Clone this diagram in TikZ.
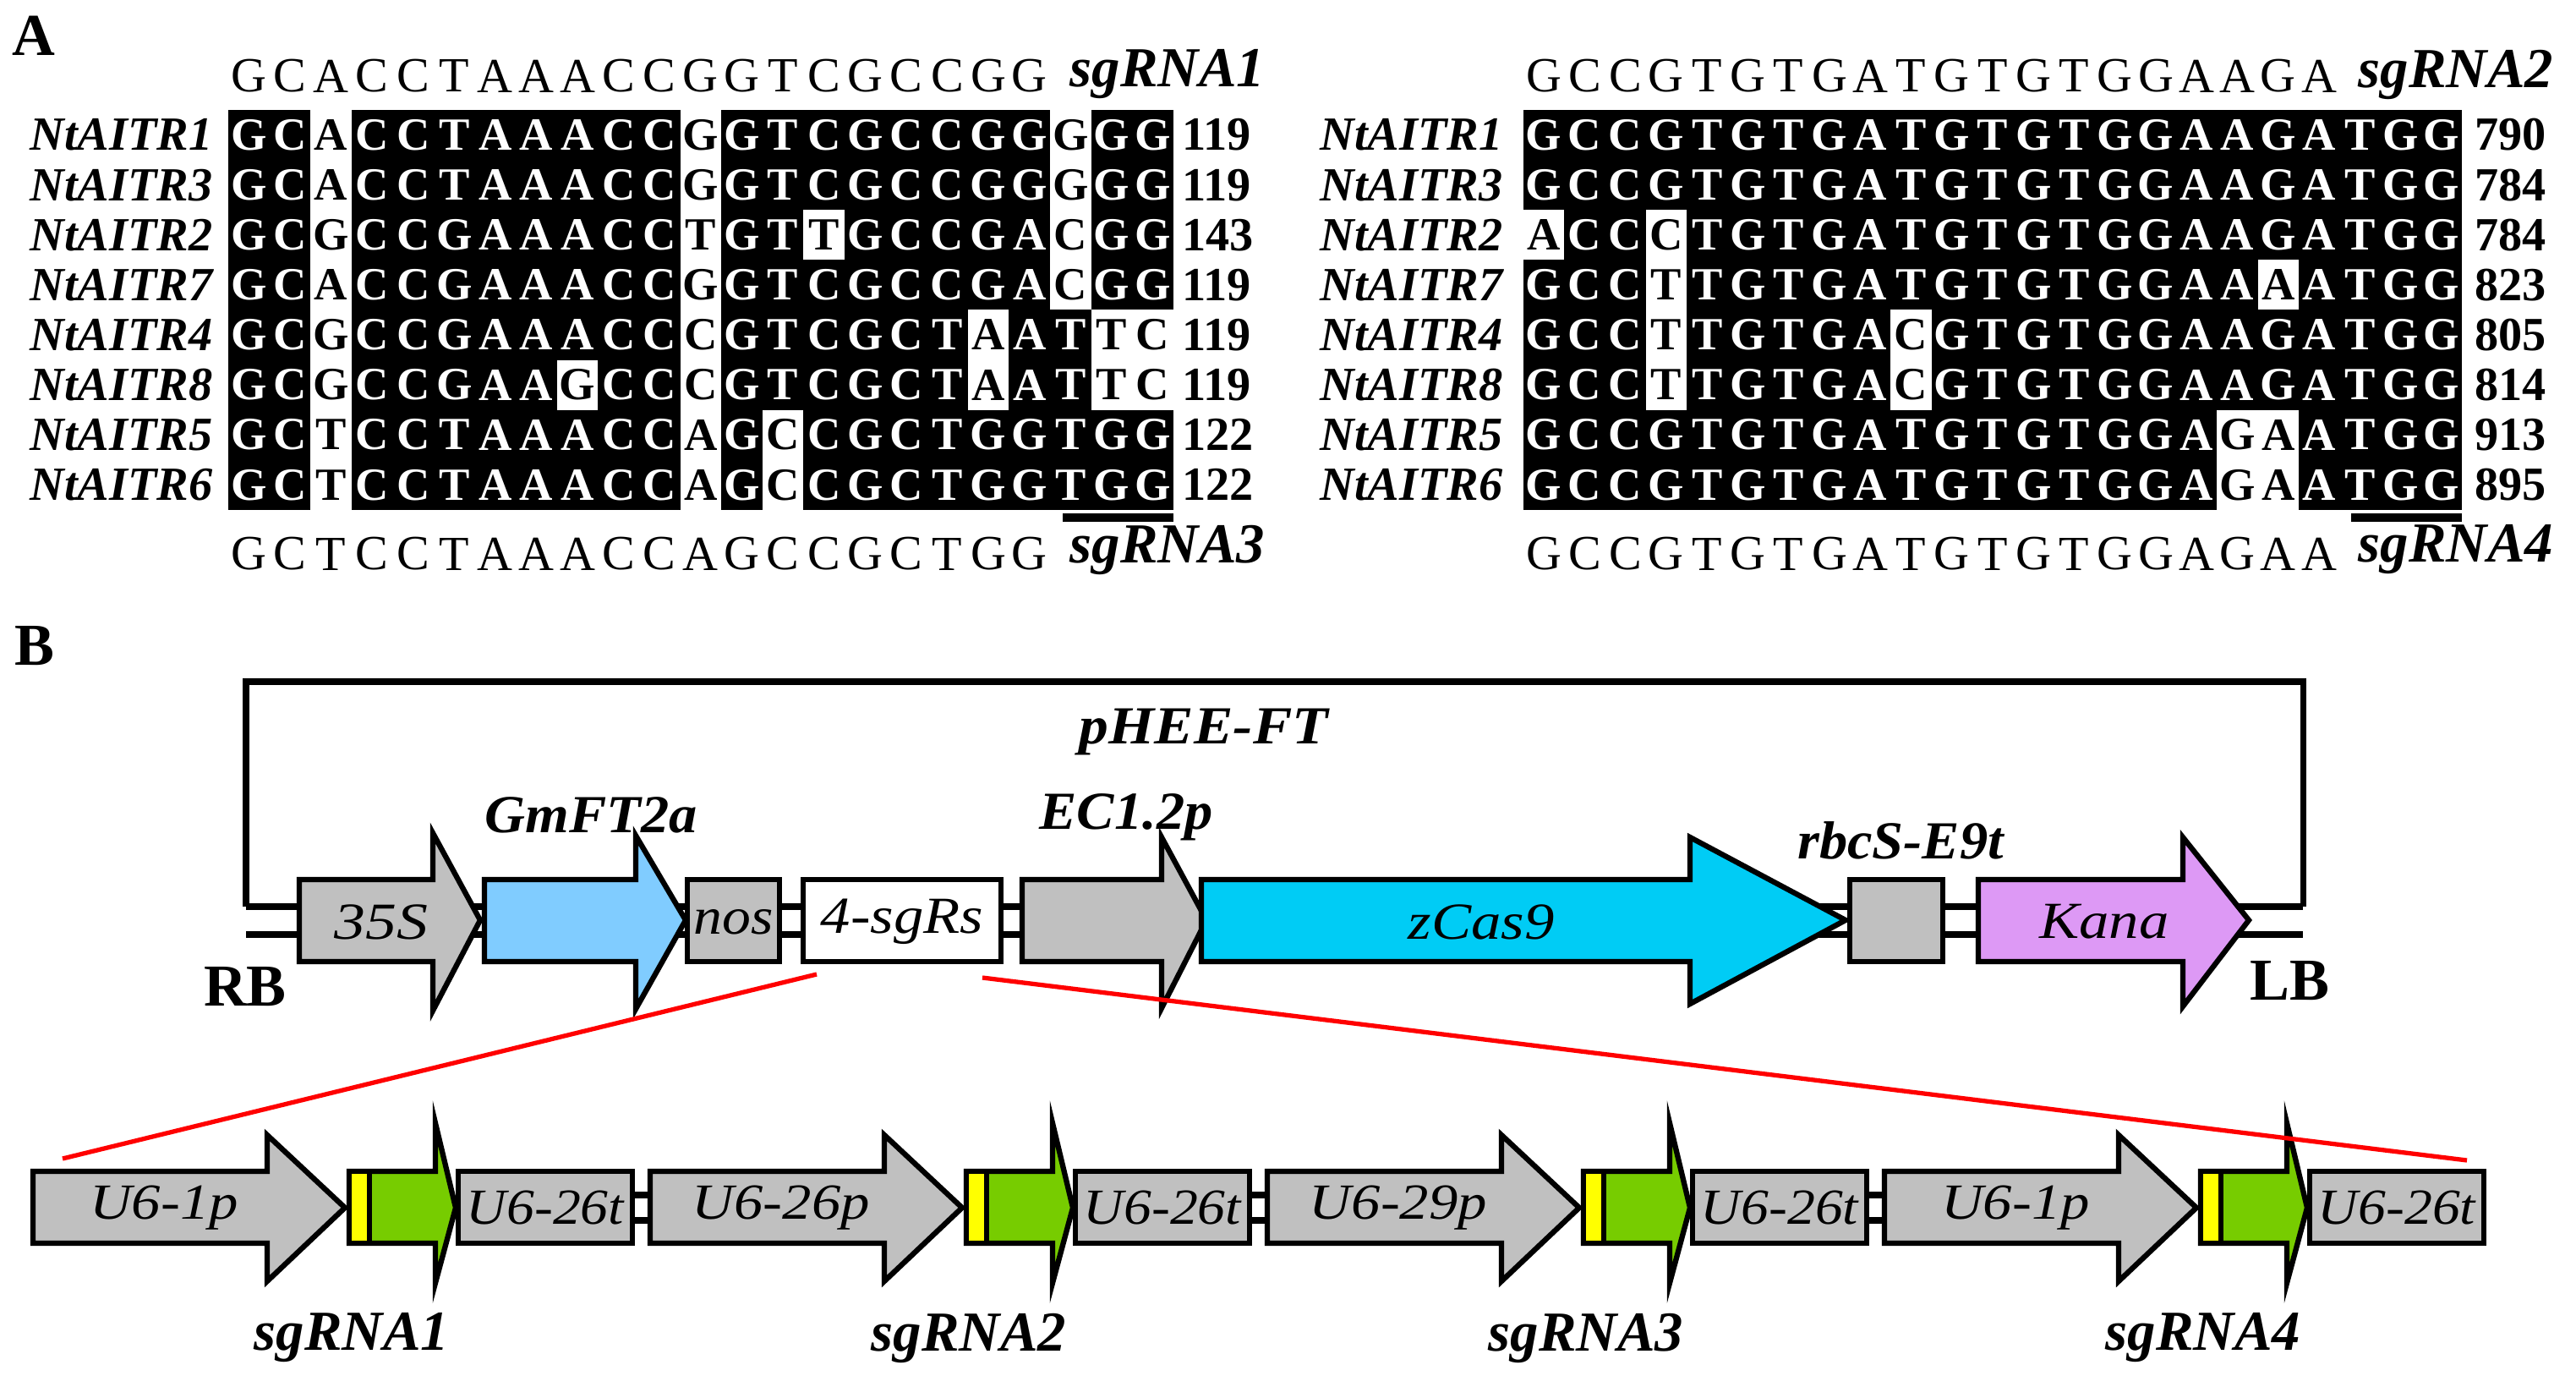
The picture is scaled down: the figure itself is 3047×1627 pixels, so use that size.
\documentclass[tikz,border=0pt]{standalone}
\usepackage{fontspec}
\usepackage{graphicx}
\setmainfont{Liberation Serif}
\makeatletter
\newcommand\setcc[2]{\edef\tmp{\noexpand\in@{,#2,}{#1}}\tmp\ifin@\def\cc{black}\def\bg{white}\else\def\cc{white}\def\bg{black}\fi}
\makeatother
\newcommand\wx[2]{\scalebox{#1}[1]{#2}}
\def\whL{,0-2,0-11,0-20,1-2,1-11,1-20,2-2,2-11,2-14,2-20,3-2,3-11,3-20,4-2,4-11,4-18,4-21,4-22,5-2,5-8,5-11,5-18,5-21,5-22,6-2,6-11,6-13,7-2,7-11,7-13,}
\def\whR{,2-0,2-3,3-3,3-18,4-3,4-9,5-3,5-9,6-17,6-18,7-17,7-18,}
\definecolor{gr}{HTML}{C0C0C0}
\definecolor{lblue}{HTML}{80CCFF}
\definecolor{cas}{HTML}{00CCF5}
\definecolor{kana}{HTML}{DD99F5}
\definecolor{grn}{HTML}{77CC00}
\definecolor{yel}{HTML}{FFFF00}
\newcommand\garrow[9]{\draw[gene,fill=#4] (#1,#5)--(#2,#5)--(#2,#7)--(#3,#9)--(#2,#8)--(#2,#6)--(#1,#6)--cycle;}
\tikzset{
 gene/.style={draw=black,line width=1.8pt,line join=miter},
 cell/.style={font=\fontsize{15.5}{16}\bfseries\selectfont,inner sep=0pt},
 cons/.style={font=\fontsize{16.5}{17}\selectfont,inner sep=0pt},
 rowlab/.style={font=\fontsize{16}{17}\bfseries\itshape\selectfont,inner sep=0pt,anchor=east},
 num/.style={font=\fontsize{16}{17}\bfseries\selectfont,inner sep=0pt,anchor=west},
 sglab/.style={font=\fontsize{19}{20}\bfseries\itshape\selectfont,inner sep=0pt},
 toplab/.style={font=\fontsize{18}{19}\bfseries\itshape\selectfont,inner sep=0pt},
 inlab/.style={font=\fontsize{17.5}{18}\itshape\selectfont,inner sep=0pt},
 u6lab/.style={font=\fontsize{17}{18}\itshape\selectfont,inner sep=0pt},
 panel/.style={font=\fontsize{20}{21}\bfseries\selectfont,inner sep=0pt},
 redl/.style={draw=red,line width=1.5pt},
}
\begin{document}
\begin{tikzpicture}[x=0.01cm,y=-0.01cm]
\useasboundingbox (0,0) rectangle (3047,1627);
\node[panel] (pA) at (40,42) {A};
\node[panel] (pB) at (41,764) {B};
% ---------- left alignment
\fill[black] (270,130) rectangle (1388,603);
\foreach \s [count=\r from 0] in {
 {G,C,A,C,C,T,A,A,A,C,C,G,G,T,C,G,C,C,G,G,G,G,G},
 {G,C,A,C,C,T,A,A,A,C,C,G,G,T,C,G,C,C,G,G,G,G,G},
 {G,C,G,C,C,G,A,A,A,C,C,T,G,T,T,G,C,C,G,A,C,G,G},
 {G,C,A,C,C,G,A,A,A,C,C,G,G,T,C,G,C,C,G,A,C,G,G},
 {G,C,G,C,C,G,A,A,A,C,C,C,G,T,C,G,C,T,A,A,T,T,C},
 {G,C,G,C,C,G,A,A,G,C,C,C,G,T,C,G,C,T,A,A,T,T,C},
 {G,C,T,C,C,T,A,A,A,C,C,A,G,C,C,G,C,T,G,G,T,G,G},
 {G,C,T,C,C,T,A,A,A,C,C,A,G,C,C,G,C,T,G,G,T,G,G}}{
 \foreach \ch [count=\c from 0] in \s {
  \setcc{\whL}{\r-\c}
  \fill[\bg] (270+48.6*\c,130+59.1*\r) rectangle (270+48.6*\c+48.6,130+59.1*\r+59.1);
  \node[cell,text=\cc] (l\r-\c) at (270+48.6*\c+24.3,130+59.1*\r+29.55) {\ch};
 }}
\foreach \ch [count=\c from 0] in {G,C,A,C,C,T,A,A,A,C,C,G,G,T,C,G,C,C,G,G}
 \node[cons] (lt\c) at (270+48.6*\c+24.3,90) {\ch};
\foreach \ch [count=\c from 0] in {G,C,T,C,C,T,A,A,A,C,C,A,G,C,C,G,C,T,G,G}
 \node[cons] (lb\c) at (270+48.6*\c+24.3,655) {\ch};
\node[sglab] (sg1) at (1381,88) {sgRNA1};
\node[sglab] (sg3) at (1381,650) {sgRNA3};
\fill[black] (1257,607) rectangle (1388,617);
\foreach \n/\v [count=\r from 0] in {1/119,3/119,2/143,7/119,4/119,8/119,5/122,6/122}{
 \node[rowlab] (ln\r) at (252,130+59.1*\r+29.55) {NtAITR\n};
 \node[num] (lv\r) at (1398,130+59.1*\r+29.55) {\v};
}
% ---------- right alignment
\fill[black] (1802,130) rectangle (2912,603);
\foreach \s [count=\r from 0] in {
 {G,C,C,G,T,G,T,G,A,T,G,T,G,T,G,G,A,A,G,A,T,G,G},
 {G,C,C,G,T,G,T,G,A,T,G,T,G,T,G,G,A,A,G,A,T,G,G},
 {A,C,C,C,T,G,T,G,A,T,G,T,G,T,G,G,A,A,G,A,T,G,G},
 {G,C,C,T,T,G,T,G,A,T,G,T,G,T,G,G,A,A,A,A,T,G,G},
 {G,C,C,T,T,G,T,G,A,C,G,T,G,T,G,G,A,A,G,A,T,G,G},
 {G,C,C,T,T,G,T,G,A,C,G,T,G,T,G,G,A,A,G,A,T,G,G},
 {G,C,C,G,T,G,T,G,A,T,G,T,G,T,G,G,A,G,A,A,T,G,G},
 {G,C,C,G,T,G,T,G,A,T,G,T,G,T,G,G,A,G,A,A,T,G,G}}{
 \foreach \ch [count=\c from 0] in \s {
  \setcc{\whR}{\r-\c}
  \fill[\bg] (1802+48.26*\c,130+59.1*\r) rectangle (1802+48.26*\c+48.26,130+59.1*\r+59.1);
  \node[cell,text=\cc] (r\r-\c) at (1802+48.26*\c+24.13,130+59.1*\r+29.55) {\ch};
 }}
\foreach \ch [count=\c from 0] in {G,C,C,G,T,G,T,G,A,T,G,T,G,T,G,G,A,A,G,A}
 \node[cons] (rt\c) at (1802+48.26*\c+24.13,90) {\ch};
\foreach \ch [count=\c from 0] in {G,C,C,G,T,G,T,G,A,T,G,T,G,T,G,G,A,G,A,A}
 \node[cons] (rb\c) at (1802+48.26*\c+24.13,655) {\ch};
\node[sglab] (sg2) at (2905,88) {sgRNA2};
\node[sglab] (sg4) at (2905,650) {sgRNA4};
\fill[black] (2781,607) rectangle (2912,617);
\foreach \n/\v [count=\r from 0] in {1/790,3/784,2/784,7/823,4/805,8/814,5/913,6/895}{
 \node[rowlab] (rn\r) at (1778,130+59.1*\r+29.55) {NtAITR\n};
 \node[num] (rv\r) at (2927,130+59.1*\r+29.55) {\v};
}
% ---------- panel B
\draw[line width=2pt] (291,1072)--(291,806)--(2724,806)--(2724,1072);
\draw[line width=2pt] (291,1072)--(2724,1072) (291,1105)--(2724,1105);
\garrow{354}{512}{568}{gr}{1040}{1137}{985}{1195}{1088}
\garrow{573}{752}{811}{lblue}{1040}{1137}{988}{1193}{1088}
\draw[gene,fill=gr] (813,1040) rectangle (922,1137);
\draw[gene,fill=white] (950,1040) rectangle (1184,1137);
\garrow{1209}{1374}{1427}{gr}{1040}{1137}{990}{1192}{1088}
\garrow{1421}{1999}{2183}{cas}{1040}{1137}{990}{1187}{1088}
\draw[gene,fill=gr] (2188,1040) rectangle (2298,1137);
\garrow{2340}{2582}{2660}{kana}{1040}{1137}{990}{1190}{1088}
\node[inlab] (t35) at (451,1090) {\wx{1.2}{35S}};
\node[inlab] (tnos) at (868,1090) {\wx{1.1}{nos}};
\node[inlab] (tsg) at (1067,1090) {\wx{1.15}{4-sgRs}};
\node[inlab] (tcas) at (1752,1090) {\wx{1.15}{zCas9}};
\node[inlab] (tkan) at (2489,1090) {\wx{1.15}{Kana}};
\node[toplab] (tph) at (1424,866) {\wx{1.1}{pHEE-FT}};
\node[toplab] (tgm) at (699,964) {\wx{1.05}{GmFT2a}};
\node[toplab] (tec) at (1332,966) {\wx{1.05}{EC1.2p}};
\node[toplab] (trb) at (2248,994) {\wx{1.05}{rbcS-E9t}};
\node[font=\fontsize{20}{21}\bfseries\selectfont,inner sep=0pt] (RB) at (290,1167) {RB};
\node[font=\fontsize{20}{21}\bfseries\selectfont,inner sep=0pt] (LB) at (2708,1160) {LB};
% lower row
\foreach \i/\pl/\sg in {0/U6-1p/sgRNA1,1/U6-26p/sgRNA2,2/U6-29p/sgRNA3,3/U6-1p/sgRNA4}{
 \pgfmathsetmacro\o{730*\i}
 \ifnum\i<3
  \draw[line width=2pt] (748+\o,1413)--(770+\o,1413) (748+\o,1443)--(770+\o,1443);
 \fi
 \garrow{39+\o}{316+\o}{408+\o}{gr}{1385}{1470}{1342}{1515}{1428}
 \garrow{413+\o}{515+\o}{539+\o}{grn}{1385}{1470}{1328}{1517}{1428}
 \draw[gene,fill=yel] (413+\o,1385) rectangle (437+\o,1470);
 \draw[gene,fill=gr] (542+\o,1385) rectangle (748+\o,1470);
 \node[u6lab] (p\i) at (194+\o,1428) {\wx{1.15}{\pl}};
 \node[u6lab] (t\i) at (645+\o,1428) {\wx{1.1}{U6-26t}};
 \node[sglab] (s\i) at (416+\o,1582) {\sg};
}
\coordinate (ra1) at (966,1152);
\coordinate (rb1) at (74,1370);
\coordinate (ra2) at (1162,1156);
\coordinate (rb2) at (2918,1372);
\draw[redl] (ra1)--(rb1);
\draw[redl] (ra2)--(rb2);
\end{tikzpicture}
\end{document}
